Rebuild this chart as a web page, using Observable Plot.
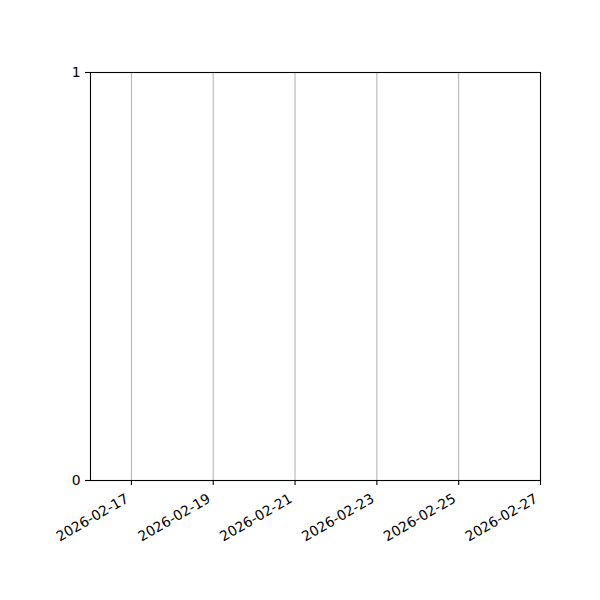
<!DOCTYPE html>
<html>
<head>
<meta charset="utf-8">
<script src="https://cdn.jsdelivr.net/npm/d3@7"></script>
<script src="https://cdn.jsdelivr.net/npm/@observablehq/plot@0.6"></script>
<style>
body { margin: 0; background: #fff; }
</style>
</head>
<body>
<div id="chart"></div>
<script>
const xDomain = ["2026-02-16", "2026-02-27"];
const tickDates = ["2026-02-17", "2026-02-19", "2026-02-21", "2026-02-23", "2026-02-25", "2026-02-27"];
const yDomain = [0, 1];
const yTicks = [0, 1];

const parse = d3.utcParse("%Y-%m-%d");
const xd = xDomain.map(parse);
const ticks = tickDates.map(parse);
const fmt = d3.utcFormat("%Y-%m-%d");

const chart = Plot.plot({
  width: 600,
  height: 600,
  marginLeft: 90,
  marginRight: 60,
  marginTop: 72,
  marginBottom: 120,
  style: { fontFamily: "DejaVu Sans", fontSize: "13.9px", color: "#000", background: "#fff" },
  x: { type: "utc", domain: xd },
  y: { domain: yDomain },
  marks: [
    Plot.ruleX(ticks, { stroke: "#b0b0b0", strokeWidth: 1 }),
    Plot.frame({ stroke: "#000", strokeWidth: 1.1 }),
    Plot.axisX({
      ticks: ticks,
      tickFormat: () => "",
      tickSize: 5,
      stroke: "#000",
      strokeWidth: 1.1,
      label: null
    }),
    Plot.text(ticks, {
      x: d => d,
      text: d => fmt(d),
      frameAnchor: "bottom",
      rotate: -30,
      textAnchor: "end",
      lineAnchor: "middle",
      dx: -4,
      dy: 17,
      fill: "#000",
      fontSize: 13.9
    }),
    Plot.axisY({
      ticks: yTicks,
      tickFormat: d => String(d),
      tickSize: 5,
      tickPadding: 5,
      stroke: "#000",
      strokeWidth: 1.1,
      fill: "#000",
      label: null
    })
  ]
});
document.getElementById("chart").appendChild(chart);
</script>
</body>
</html>
